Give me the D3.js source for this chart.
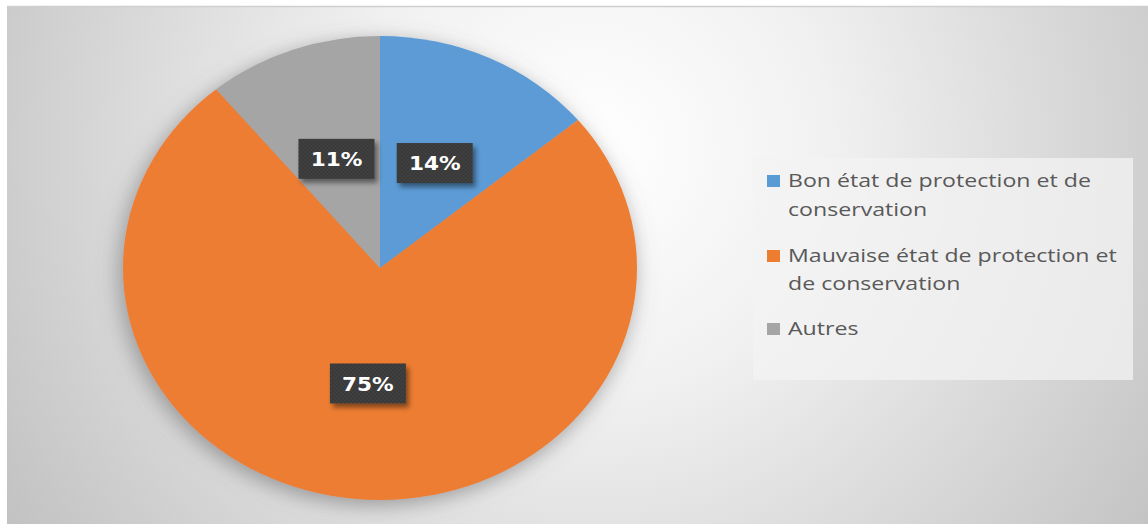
<!DOCTYPE html>
<html><head><meta charset="utf-8">
<script src="https://cdn.jsdelivr.net/npm/d3@7"></script>
<style>html,body{margin:0;padding:0;background:#fff;}svg{display:block;}</style>
</head><body>
<svg id="c" width="1148" height="524"></svg>
<script>
const categories = ["Bon état de protection et de conservation", "Mauvaise état de protection et de conservation", "Autres"];
const values = [14, 75, 11];
const percentLabels = ["14%", "75%", "11%"];
const legendLines = [["Bon état de protection et de", "conservation"], ["Mauvaise état de protection et", "de conservation"], ["Autres"]];
const colors = ["#5b9bd5", "#ed7d31", "#a5a5a5"];

const W = 1148, H = 524;
const svg = d3.select("#c");
const defs = svg.append("defs");

const bg = defs.append("radialGradient").attr("id", "bg")
  .attr("gradientUnits", "userSpaceOnUse").attr("cx", 590).attr("cy", 150).attr("r", 680);
bg.append("stop").attr("offset", 0).attr("stop-color", "#ffffff");
bg.append("stop").attr("offset", 0.35).attr("stop-color", "#f1f1f1");
bg.append("stop").attr("offset", 1).attr("stop-color", "#c3c3c3");

const sh = defs.append("filter").attr("id", "pieShadow").attr("x", "-20%").attr("y", "-20%").attr("width", "140%").attr("height", "140%");
sh.append("feDropShadow").attr("dx", -3).attr("dy", 5).attr("stdDeviation", 10).attr("flood-color", "#6a6a6a").attr("flood-opacity", 0.6);

const bsh = defs.append("filter").attr("id", "boxShadow").attr("x", "-30%").attr("y", "-30%").attr("width", "160%").attr("height", "170%");
bsh.append("feDropShadow").attr("dx", 3).attr("dy", 4).attr("stdDeviation", 2.5).attr("flood-color", "#000").attr("flood-opacity", 0.45);

const pat = defs.append("pattern").attr("id", "dots").attr("patternUnits", "userSpaceOnUse").attr("width", 4).attr("height", 4);
pat.append("rect").attr("width", 4).attr("height", 4).attr("fill", "#383838");
pat.append("circle").attr("cx", 1).attr("cy", 1).attr("r", 0.8).attr("fill", "#4a4a4a");
pat.append("circle").attr("cx", 3).attr("cy", 3).attr("r", 0.8).attr("fill", "#4a4a4a");

// background
svg.append("rect").attr("width", W).attr("height", H).attr("fill", "#fff");
svg.append("rect").attr("x", 7).attr("y", 7).attr("width", W - 7).attr("height", H - 7).attr("fill", "url(#bg)");
svg.append("line").attr("x1", 7).attr("x2", W).attr("y1", 6.5).attr("y2", 6.5).attr("stroke", "#cfcfcf").attr("stroke-width", 1.5);

// pie (stretched horizontally like the reference)
const cx = 380, cy = 268, R = 232, sx = 257 / 232;
const pie = d3.pie().sort(null).value(d => d);
const arcs = pie(values);
const arc = d3.arc().innerRadius(0).outerRadius(R);
const labelArc = d3.arc().innerRadius(R * 0.5).outerRadius(R * 0.5);

const pg = svg.append("g").attr("filter", "url(#pieShadow)")
  .attr("transform", `translate(${cx},${cy}) scale(${sx},1)`);
pg.selectAll("path").data(arcs).join("path")
  .attr("d", arc).attr("fill", (d, i) => colors[i]);

// data labels
const lg = svg.append("g").attr("transform", `translate(${cx},${cy})`);
const lab = lg.selectAll("g.lab").data(arcs).join("g").attr("class", "lab")
  .attr("transform", d => { const c = labelArc.centroid(d); return `translate(${c[0] * sx},${c[1]})`; });
lab.append("rect").attr("x", -38).attr("y", -20).attr("width", 76).attr("height", 40)
  .attr("fill", "url(#dots)").attr("filter", "url(#boxShadow)");
lab.append("text").attr("text-anchor", "middle").attr("dy", "0.37em")
  .attr("font-family", "DejaVu Sans").attr("font-weight", "bold").attr("font-size", 20)
  .attr("transform", "scale(1.08,1)")
  .attr("fill", "#ffffff").text((d, i) => percentLabels[i]);

// legend
svg.append("rect").attr("x", 753).attr("y", 158).attr("width", 380).attr("height", 222)
  .attr("fill", "#f3f3f3").attr("fill-opacity", 0.75);
const baselines = [[187, 216], [262, 290], [335]];
const leg = svg.append("g");
const tx = 788;
const FS = 18;
let firstText;
categories.forEach((c, i) => {
  leg.append("rect").attr("x", 767).attr("y", baselines[i][0] - 12).attr("width", 13).attr("height", 12).attr("fill", colors[i]);
  legendLines[i].forEach((ln, j) => {
    const t = leg.append("text").attr("class", "lt").attr("x", 0).attr("y", 0)
      .datum(baselines[i][j])
      .attr("font-family", "Open Sans").attr("font-size", FS).attr("fill", "#595959").text(ln);
    if (!firstText) firstText = t;
  });
});
// stretch horizontally to match the reference's line width
const w0 = firstText.node().getComputedTextLength();
const k = 303 / w0;
leg.selectAll("text.lt").attr("transform", d => `translate(${tx},${d}) scale(${k.toFixed(4)},1)`);
</script>
</body></html>
